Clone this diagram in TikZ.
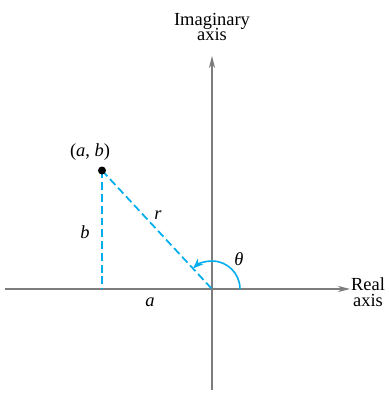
\documentclass[tikz,border=0pt]{standalone}
\usepackage{fontspec}
\setmainfont{Liberation Serif}
\usetikzlibrary{arrows.meta}
\definecolor{polcyan}{RGB}{0,174,239}
\definecolor{axisgray}{RGB}{125,125,125}
\begin{document}
\begin{tikzpicture}[x=0.02cm, y=0.02cm, line join = round, >={Stealth[length=7pt,width=3.6pt]},
  axis/.style={->, axisgray, line width=.6pt},
  guide/.style={polcyan, line width=1pt, dash pattern=on 4.5pt off 2.2pt},
  lbl/.style={font=\fontsize{10.5}{11}\selectfont, inner sep=0pt, align=center}]
\useasboundingbox (-212,-104) rectangle (177,289);
\def\xmin{-207}     \def\xmax{138}
\def\ymin{-101}     \def\ymax{233}
\coordinate (O) at (0,0);
\coordinate (W) at (\xmin,0);
\coordinate (E) at (\xmax,0);
\coordinate (S) at (0,\ymin);
\coordinate (N) at (0,\ymax);
\coordinate (P) at (-110,118.5);
\coordinate (F) at (-110,0);
\draw[axis] (W)--(E);
\draw[axis] (S)--(N);
\draw[guide] (P)--(F);
\draw[guide] (P)--(O);
\draw[->, polcyan, line width=.9pt, >={Stealth[length=6pt,width=4.5pt]}] (28,0) arc[start angle=0, end angle=133, radius=28];
\fill (P) circle (4);
\node[lbl] (ab) at (-122,137) {(\textit{a}, \textit{b})};
\node[lbl] (b) at (-127,57) {\textit{b}};
\node[lbl] (r) at (-54,74) {\textit{r}};
\node[lbl] (a) at (-62,-13) {\textit{a}};
\node[lbl] (th) at (27,30) {\textit{θ}};
\node[lbl] (im) at (0,262) {Imaginary\\[-2pt]axis};
\node[lbl] (re) at (156,-3) {Real\\[-2pt]axis};
\end{tikzpicture}
\end{document}
